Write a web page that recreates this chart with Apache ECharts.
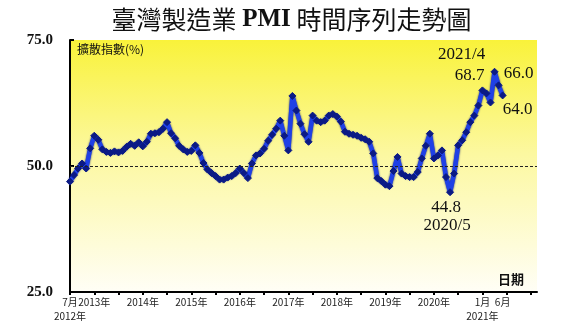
<!DOCTYPE html>
<html>
<head>
<meta charset="utf-8">
<script src="https://cdn.jsdelivr.net/npm/echarts@6/dist/echarts.min.js"></script>
<style>
html,body{margin:0;padding:0;background:#fff;}
#c{width:583px;height:323px;}
</style>
</head>
<body>
<div id="c"></div>
<script>
// Monthly PMI, July 2012 .. June 2021 (index 0 = 2012/7)
const pmi = [
  46.9, 48.2, 49.5, 50.5, 49.5, 53.5,             // 2012 Jul-Dec
  56.0, 55.2, 53.3, 52.8, 52.6, 52.9, 52.7, 53.0, 53.8, 54.4, 54.0, 54.7, // 2013
  53.9, 54.8, 56.4, 56.5, 56.7, 57.4, 58.7, 56.5, 55.5, 54.0, 53.3, 52.8, // 2014
  53.0, 54.1, 52.6, 50.6, 49.3, 48.6, 48.0, 47.3, 47.3, 47.7, 48.0, 48.6, // 2015
  49.5, 48.6, 47.6, 50.5, 52.1, 52.5, 53.4, 55.0, 56.2, 57.4, 59.0, 56.0, // 2016
  53.1, 63.9, 61.0, 58.4, 56.3, 54.8, 60.0, 59.0, 58.7, 59.0, 60.0, 60.3, // 2017
  59.8, 58.8, 56.8, 56.4, 56.2, 56.0, 55.6, 55.3, 54.8, 52.5, 47.6, 47.0, // 2018
  46.3, 46.0, 49.0, 51.8, 48.5, 48.0, 47.8, 47.8, 48.8, 51.5, 54.0, 56.4, // 2019
  51.5, 52.1, 53.1, 47.8, 44.8, 48.5, 54.1, 55.1, 56.7, 58.7, 60.0, 62.0, // 2020
  65.0, 64.4, 62.6, 68.7, 66.0, 64.0              // 2021 Jan-Jun
];
// x-axis tick labels (month offsets from 2012/7) and their texts
const tickMonths = [0, 6, 18, 30, 42, 54, 66, 78, 90, 102, 107];
const tickTexts = ['7月', '2013年', '2014年', '2015年', '2016年', '2017年', '2018年', '2019年', '2020年', '1月', '6月'];
const yearMonths = [0, 102];
const yearTexts = ['2012年', '2021年'];
const halfYearTicks = [0, 6, 12, 18, 24, 30, 36, 42, 48, 54, 60, 66, 72, 78, 84, 90, 96, 102, 108, 114];
// annotated points
const notes = [
  {idx: 105, text: '2021/4', off: [-33, -17]},
  {idx: 105, text: '68.7', off: [-25, 4]},
  {idx: 106, text: '66.0', off: [20, -12]},
  {idx: 107, text: '64.0', off: [15, 14]},
  {idx: 94, text: '44.8', off: [-4, 15]},
  {idx: 94, text: '2020/5', off: [-3, 33]}
];

const chart = echarts.init(document.getElementById('c'), null, {renderer: 'canvas'});
const serifFont = '"Liberation Serif","DejaVu Serif",serif';
const cjkFont = '"Noto Sans CJK TC","Noto Sans CJK SC",sans-serif';

function pick(months, texts) {
  return v => {
    const k = months.indexOf(Math.round(v));
    return k >= 0 ? texts[k] : '';
  };
}

chart.setOption({
  animation: false,
  backgroundColor: '#ffffff',
  title: {
    text: '{c|臺灣製造業 }{p|PMI}{c| 時間序列走勢圖}',
    left: 'center',
    top: 2,
    textStyle: {
      rich: {
        c: {fontFamily: cjkFont, fontSize: 25, color: '#111', fontWeight: 'normal'},
        p: {fontFamily: serifFont, fontSize: 25, color: '#111', fontWeight: 'bold'}
      }
    }
  },
  grid: {
    left: 70, right: 46, top: 40, bottom: 31,
    containLabel: false,
    show: true,
    borderWidth: 0,
    backgroundColor: new echarts.graphic.LinearGradient(0, 0, 0, 1, [
      {offset: 0, color: '#f9f23a'},
      {offset: 0.45, color: '#fcf8a0'},
      {offset: 1, color: '#fffef6'}
    ])
  },
  xAxis: [{
    type: 'value',
    min: 0,
    max: 115.5,
    splitLine: {show: false},
    axisLine: {show: true, lineStyle: {color: '#000', width: 2}},
    axisTick: {show: true, length: 3, lineStyle: {color: '#000', width: 2}, customValues: halfYearTicks},
    axisLabel: {
      customValues: tickMonths,
      showMinLabel: true,
      showMaxLabel: true,
      hideOverlap: false,
      formatter: pick(tickMonths, tickTexts),
      fontFamily: cjkFont, fontSize: 10, color: '#222', margin: 5
    }
  }, {
    type: 'value',
    min: 0,
    max: 115.5,
    position: 'bottom',
    offset: 14,
    splitLine: {show: false},
    axisLine: {show: false},
    axisTick: {show: false},
    axisLabel: {
      customValues: yearMonths,
      showMinLabel: true,
      hideOverlap: false,
      formatter: pick(yearMonths, yearTexts),
      fontFamily: cjkFont, fontSize: 10, color: '#222', margin: 5
    }
  }],
  yAxis: {
    type: 'value',
    min: 25, max: 75, interval: 25,
    splitLine: {show: false},
    axisLine: {show: true, lineStyle: {color: '#000', width: 2}},
    axisTick: {show: true, inside: true, length: 4, lineStyle: {color: '#000', width: 2}},
    axisLabel: {
      formatter: v => v.toFixed(1),
      fontFamily: serifFont, fontWeight: 'bold', fontSize: 15, color: '#111', margin: 17
    }
  },
  graphic: [
    {type: 'text', left: 77, top: 43, style: {text: '擴散指數(%)', font: '12px ' + cjkFont, fill: '#111'}},
    {type: 'text', left: 498, top: 273, style: {text: '日期', font: 'bold 13px ' + cjkFont, fill: '#111'}}
  ],
  series: [{
    type: 'line',
    xAxisIndex: 0,
    data: pmi.map((v, i) => [i, v]),
    symbol: 'diamond',
    symbolSize: 7,
    showAllSymbol: true,
    lineStyle: {color: '#1f40e6', width: 4.5, shadowColor: '#0a1670', shadowBlur: 2},
    itemStyle: {color: '#0b1a85', borderColor: '#0b1a85', borderWidth: 1},
    markLine: {
      silent: true,
      symbol: 'none',
      label: {show: false},
      lineStyle: {color: '#222', width: 1, type: [3, 2]},
      data: [{yAxis: 50}]
    },
    markPoint: {
      symbol: 'circle',
      symbolSize: 0,
      data: notes.map(n => ({
        coord: [n.idx, pmi[n.idx]],
        value: n.text,
        label: {
          show: true, formatter: n.text, offset: n.off,
          fontFamily: serifFont, fontSize: 17, color: '#111'
        }
      }))
    }
  }]
});
</script>
</body>
</html>
